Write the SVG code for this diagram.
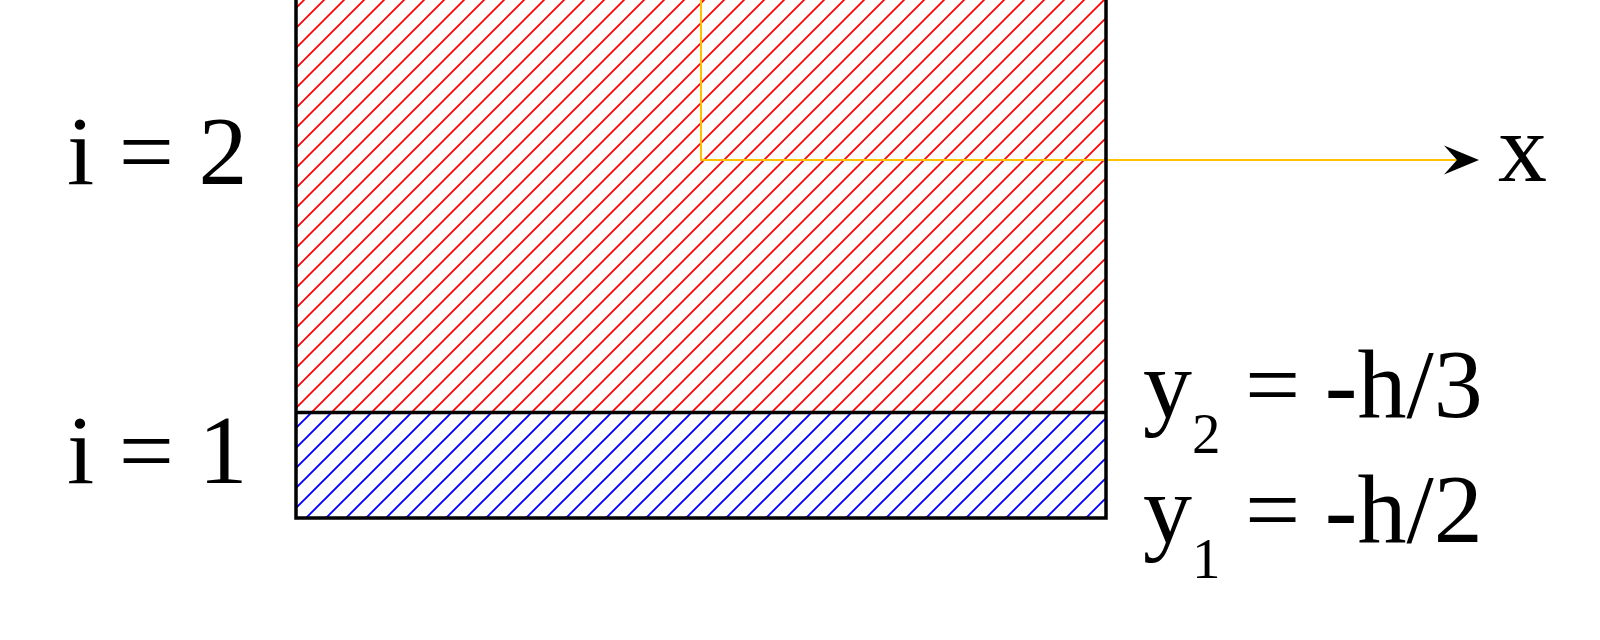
<svg xmlns="http://www.w3.org/2000/svg" width="1600" height="640" viewBox="0 0 1600 640">
  <style>
    .lbl { font-family: "Liberation Serif", "Times New Roman", serif; font-size: 98px; fill: #000; }
    .sub { font-size: 57px; }
    .border { fill: none; stroke: #000; stroke-width: 3.5; }
    .axis { fill: none; stroke: #FFC000; stroke-width: 2; }
  </style>
  <defs>
    <pattern id="hatchRed" patternUnits="userSpaceOnUse" x="4" y="0" width="20" height="20">
      <path d="M-2,2 L2,-2 M0,20 L20,0 M18,22 L22,18" stroke="#FF0000" stroke-width="1.7"/>
    </pattern>
    <pattern id="hatchBlue" patternUnits="userSpaceOnUse" x="4" y="0" width="20" height="20">
      <path d="M-2,2 L2,-2 M0,20 L20,0 M18,22 L22,18" stroke="#0000FF" stroke-width="1.9"/>
    </pattern>
    <marker id="arrow" markerUnits="userSpaceOnUse" markerWidth="36" markerHeight="30" refX="13" refY="15" orient="auto" viewBox="0 0 36 30">
      <path d="M0,0.5 L35,15 L0,29.5 L13,15 Z" fill="#000"/>
    </marker>
  </defs>

  <g id="layer2">
    <rect x="296" y="-10" width="810" height="422.5" fill="url(#hatchRed)"/>
  </g>
  <g id="layer1">
    <rect x="296" y="412.5" width="810" height="105.5" fill="url(#hatchBlue)"/>
  </g>

  <g id="connectors">
    <path class="axis" d="M701,-5 L701,160 L1457,160" marker-end="url(#arrow)"/>
  </g>

  <g id="borders">
    <path class="border" d="M296,-10 L296,518 L1106,518 L1106,-10"/>
    <path class="border" d="M296,412.5 L1106,412.5"/>
  </g>

  <g id="label-x">
    <text class="lbl" x="1498" y="181">x</text>
  </g>
  <g id="label-i2">
    <text class="lbl" x="67" y="184">i = 2</text>
  </g>
  <g id="label-i1">
    <text class="lbl" x="67" y="483">i = 1</text>
  </g>
  <g id="label-y2">
    <text class="lbl" x="1143" y="417">y<tspan class="sub" dy="36">2</tspan><tspan dy="-36"> = -h/3</tspan></text>
  </g>
  <g id="label-y1">
    <text class="lbl" x="1143" y="542">y<tspan class="sub" dy="36">1</tspan><tspan dy="-36"> = -h/2</tspan></text>
  </g>
</svg>
